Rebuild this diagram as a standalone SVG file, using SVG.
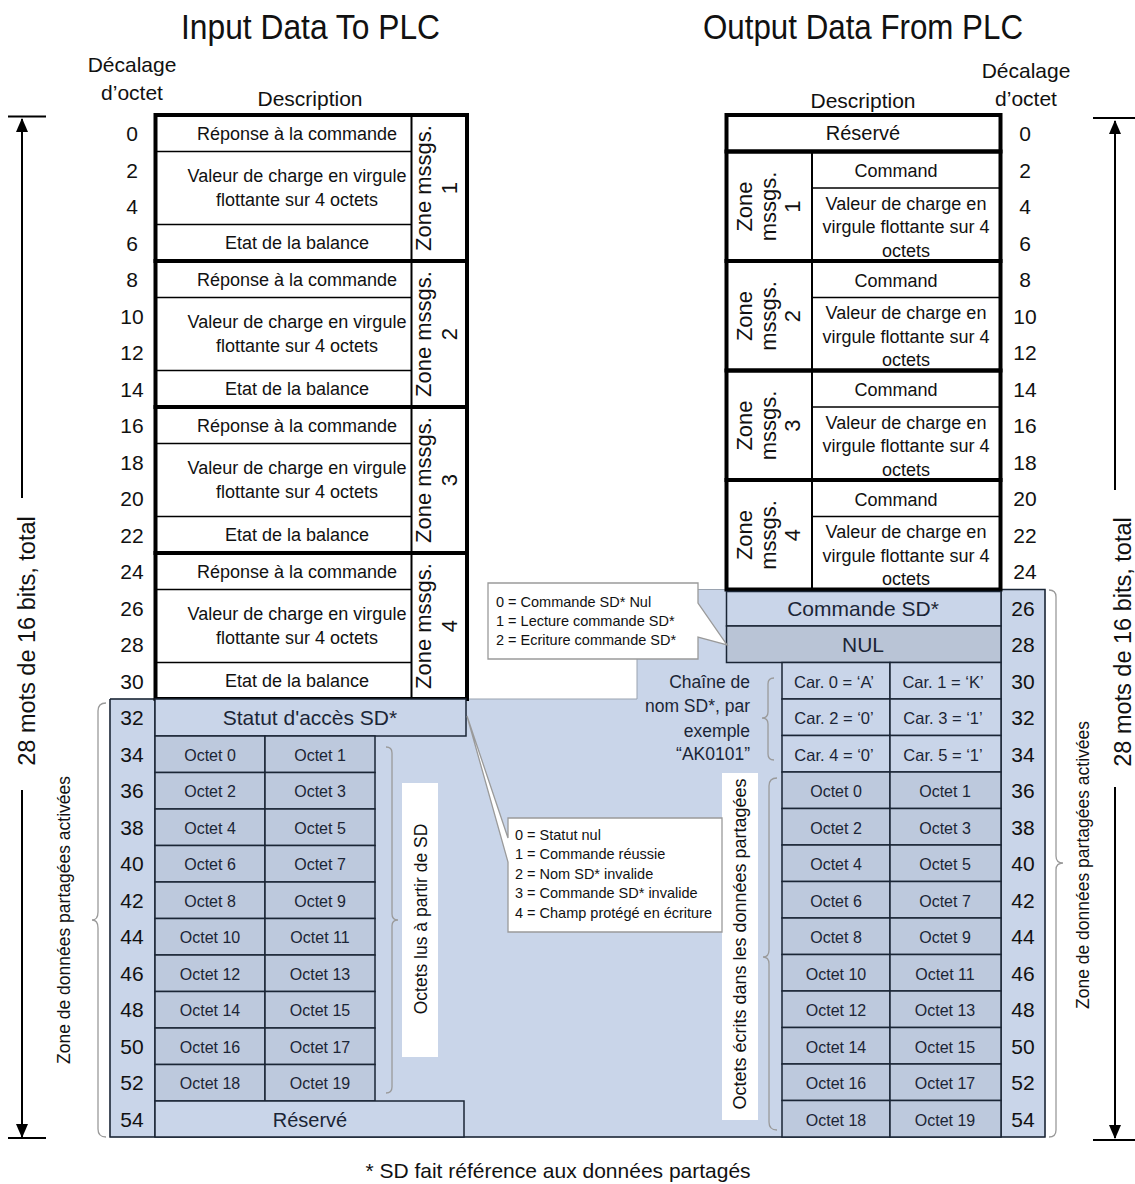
<svg xmlns="http://www.w3.org/2000/svg" width="1135" height="1184" viewBox="0 0 1135 1184">
<style>
text{font-family:"Liberation Sans",Arial,sans-serif;fill:#111}
.title{font-size:35px;text-anchor:middle}
.hdr{font-size:21px;text-anchor:middle}
.num{font-size:21px;text-anchor:middle}
.c18{font-size:18px;text-anchor:middle}
.zl{font-size:22px;text-anchor:middle}
.big{font-size:21px;text-anchor:middle;fill:#1b2536}
.res{font-size:20px;text-anchor:middle;fill:#1b2536}
.oct{font-size:16px;text-anchor:middle;fill:#1b2536}
.car{font-size:16.5px;text-anchor:middle;fill:#1b2536}
.co{font-size:14.5px}
.ch{font-size:17.5px;text-anchor:end;fill:#1b2536}
.vt{font-size:17.5px;text-anchor:middle}
.mots{font-size:23.5px;text-anchor:middle}
.thick{fill:none;stroke:#000;stroke-width:4}
.thin{stroke:#000;stroke-width:1.5;fill:none}
.mid{stroke:#000;stroke-width:2;fill:none}
.lc{fill:#c9d5e9;stroke:#1a2535;stroke-width:1.5}
.dc{fill:#bdc9dd;stroke:#1a2535;stroke-width:1.5}
.nul{fill:#b9c4d6;stroke:#1a2535;stroke-width:1.5}
.edge{stroke:#1a2535;stroke-width:1.5;fill:none}
.brace{fill:none;stroke:#9a9a9a;stroke-width:1.3}
.callout{fill:#fff;stroke:#9a9a9a;stroke-width:1.3}
.ax{stroke:#000;stroke-width:2;fill:none}
</style>
<defs>
<marker id="ah" markerUnits="userSpaceOnUse" markerWidth="14" markerHeight="14" refX="13" refY="6" orient="auto">
<path d="M0,0 L14,6 L0,12 Z" fill="#000"/>
</marker>
</defs>
<rect x="0" y="0" width="1135" height="1184" fill="#fff"/>

<!-- titles and headers -->
<g id="titles">
<text class="title" x="310.5" y="39" textLength="259" lengthAdjust="spacingAndGlyphs">Input Data To PLC</text>
<text class="title" x="863" y="39" textLength="320" lengthAdjust="spacingAndGlyphs">Output Data From PLC</text>
<text class="hdr" x="132" y="72">Décalage</text>
<text class="hdr" x="132" y="100">d’octet</text>
<text class="hdr" x="310" y="106">Description</text>
<text class="hdr" x="1026" y="78">Décalage</text>
<text class="hdr" x="1026" y="106">d’octet</text>
<text class="hdr" x="863" y="108">Description</text>
</g>

<!-- shared data blue region -->
<g id="shared-area">
<path d="M110 699 H637 V589.5 H1045 V1137 H110 Z" fill="#c9d5e9" stroke="#9aa3b0" stroke-width="1"/>
<path class="edge" d="M110 699 V1137 H1045 V589.5 H1001"/>
<line class="edge" x1="110" y1="699" x2="155" y2="699"/>
<line class="edge" x1="155" y1="699" x2="155" y2="1137"/>
<line class="edge" x1="1001" y1="589.5" x2="1001" y2="1137"/>
</g>

<!-- left input table -->
<g id="input-zone1">
<line class="thin" x1="155.5" y1="151.5" x2="411.5" y2="151.5"/>
<line class="thin" x1="155.5" y1="224.5" x2="411.5" y2="224.5"/>
<line class="mid" x1="411.5" y1="115" x2="411.5" y2="261"/>
<rect class="thick" x="155.5" y="115" width="311.5" height="146"/>
<text class="c18" x="297" y="140">Réponse à la commande</text>
<text class="c18" x="297" y="182">Valeur de charge en virgule</text>
<text class="c18" x="297" y="206">flottante sur 4 octets</text>
<text class="c18" x="297" y="249">Etat de la balance</text>
<g transform="translate(438,188) rotate(-90)"><text class="zl" x="0" y="-7">Zone mssgs.</text><text class="zl" x="0" y="19">1</text></g>
</g>
<g id="input-zone2">
<line class="thin" x1="155.5" y1="297.5" x2="411.5" y2="297.5"/>
<line class="thin" x1="155.5" y1="370.5" x2="411.5" y2="370.5"/>
<line class="mid" x1="411.5" y1="261" x2="411.5" y2="407"/>
<rect class="thick" x="155.5" y="261" width="311.5" height="146"/>
<text class="c18" x="297" y="286">Réponse à la commande</text>
<text class="c18" x="297" y="328">Valeur de charge en virgule</text>
<text class="c18" x="297" y="352">flottante sur 4 octets</text>
<text class="c18" x="297" y="395">Etat de la balance</text>
<g transform="translate(438,334) rotate(-90)"><text class="zl" x="0" y="-7">Zone mssgs.</text><text class="zl" x="0" y="19">2</text></g>
</g>
<g id="input-zone3">
<line class="thin" x1="155.5" y1="443.5" x2="411.5" y2="443.5"/>
<line class="thin" x1="155.5" y1="516.5" x2="411.5" y2="516.5"/>
<line class="mid" x1="411.5" y1="407" x2="411.5" y2="553"/>
<rect class="thick" x="155.5" y="407" width="311.5" height="146"/>
<text class="c18" x="297" y="432">Réponse à la commande</text>
<text class="c18" x="297" y="474">Valeur de charge en virgule</text>
<text class="c18" x="297" y="498">flottante sur 4 octets</text>
<text class="c18" x="297" y="541">Etat de la balance</text>
<g transform="translate(438,480) rotate(-90)"><text class="zl" x="0" y="-7">Zone mssgs.</text><text class="zl" x="0" y="19">3</text></g>
</g>
<g id="input-zone4">
<line class="thin" x1="155.5" y1="589.5" x2="411.5" y2="589.5"/>
<line class="thin" x1="155.5" y1="662.5" x2="411.5" y2="662.5"/>
<line class="mid" x1="411.5" y1="553" x2="411.5" y2="699"/>
<rect class="thick" x="155.5" y="553" width="311.5" height="146"/>
<text class="c18" x="297" y="578">Réponse à la commande</text>
<text class="c18" x="297" y="620">Valeur de charge en virgule</text>
<text class="c18" x="297" y="644">flottante sur 4 octets</text>
<text class="c18" x="297" y="687">Etat de la balance</text>
<g transform="translate(438,626) rotate(-90)"><text class="zl" x="0" y="-7">Zone mssgs.</text><text class="zl" x="0" y="19">4</text></g>
</g>

<g id="input-statut">
<rect class="lc" x="155" y="699" width="311" height="37"/>
<text class="big" x="310" y="725">Statut d'accès SD*</text>
</g>
<g id="input-octets">
<rect class="dc" x="155" y="736" width="110" height="36.5"/><rect class="dc" x="265" y="736" width="110" height="36.5"/>
<rect class="dc" x="155" y="772.5" width="110" height="36.5"/><rect class="dc" x="265" y="772.5" width="110" height="36.5"/>
<rect class="dc" x="155" y="809" width="110" height="36.5"/><rect class="dc" x="265" y="809" width="110" height="36.5"/>
<rect class="dc" x="155" y="845.5" width="110" height="36.5"/><rect class="dc" x="265" y="845.5" width="110" height="36.5"/>
<rect class="dc" x="155" y="882" width="110" height="36.5"/><rect class="dc" x="265" y="882" width="110" height="36.5"/>
<rect class="dc" x="155" y="918.5" width="110" height="36.5"/><rect class="dc" x="265" y="918.5" width="110" height="36.5"/>
<rect class="dc" x="155" y="955" width="110" height="36.5"/><rect class="dc" x="265" y="955" width="110" height="36.5"/>
<rect class="dc" x="155" y="991.5" width="110" height="36.5"/><rect class="dc" x="265" y="991.5" width="110" height="36.5"/>
<rect class="dc" x="155" y="1028" width="110" height="36.5"/><rect class="dc" x="265" y="1028" width="110" height="36.5"/>
<rect class="dc" x="155" y="1064.5" width="110" height="36.5"/><rect class="dc" x="265" y="1064.5" width="110" height="36.5"/>
<text class="oct" x="210" y="761">Octet 0</text><text class="oct" x="320" y="761">Octet 1</text>
<text class="oct" x="210" y="797">Octet 2</text><text class="oct" x="320" y="797">Octet 3</text>
<text class="oct" x="210" y="834">Octet 4</text><text class="oct" x="320" y="834">Octet 5</text>
<text class="oct" x="210" y="870">Octet 6</text><text class="oct" x="320" y="870">Octet 7</text>
<text class="oct" x="210" y="907">Octet 8</text><text class="oct" x="320" y="907">Octet 9</text>
<text class="oct" x="210" y="943">Octet 10</text><text class="oct" x="320" y="943">Octet 11</text>
<text class="oct" x="210" y="980">Octet 12</text><text class="oct" x="320" y="980">Octet 13</text>
<text class="oct" x="210" y="1016">Octet 14</text><text class="oct" x="320" y="1016">Octet 15</text>
<text class="oct" x="210" y="1053">Octet 16</text><text class="oct" x="320" y="1053">Octet 17</text>
<text class="oct" x="210" y="1089">Octet 18</text><text class="oct" x="320" y="1089">Octet 19</text>
</g>
<g id="input-reserve">
<rect class="lc" x="155" y="1101" width="309" height="36"/>
<text class="res" x="310" y="1127">Réservé</text>
</g>
<g id="input-read-label">
<rect x="402" y="783" width="36" height="274" fill="#fff"/>
<text class="vt" transform="translate(427,919) rotate(-90)">Octets lus à partir de SD</text>
</g>

<!-- right output table -->
<g id="output-reserve">
<rect class="thick" x="726.5" y="115" width="274" height="36.5"/>
<text class="res" x="863" y="140" style="fill:#111">Réservé</text>
</g>
<g id="output-zone1">
<line class="thin" x1="812" y1="188" x2="1000.5" y2="188"/>
<line class="mid" x1="812" y1="151.5" x2="812" y2="261"/>
<rect class="thick" x="726.5" y="151.5" width="274" height="109.5"/>
<text class="c18" x="896" y="177">Command</text>
<text class="c18" x="906" y="209.5">Valeur de charge en</text>
<text class="c18" x="906" y="233">virgule flottante sur 4</text>
<text class="c18" x="906" y="256.5">octets</text>
<g transform="translate(769,206.5) rotate(-90)"><text class="zl" y="-17">Zone</text><text class="zl" y="7">mssgs.</text><text class="zl" y="31">1</text></g>
</g>
<g id="output-zone2">
<line class="thin" x1="812" y1="297.5" x2="1000.5" y2="297.5"/>
<line class="mid" x1="812" y1="261" x2="812" y2="370.5"/>
<rect class="thick" x="726.5" y="261" width="274" height="109.5"/>
<text class="c18" x="896" y="286.5">Command</text>
<text class="c18" x="906" y="319">Valeur de charge en</text>
<text class="c18" x="906" y="342.5">virgule flottante sur 4</text>
<text class="c18" x="906" y="366">octets</text>
<g transform="translate(769,316) rotate(-90)"><text class="zl" y="-17">Zone</text><text class="zl" y="7">mssgs.</text><text class="zl" y="31">2</text></g>
</g>
<g id="output-zone3">
<line class="thin" x1="812" y1="407" x2="1000.5" y2="407"/>
<line class="mid" x1="812" y1="370.5" x2="812" y2="480"/>
<rect class="thick" x="726.5" y="370.5" width="274" height="109.5"/>
<text class="c18" x="896" y="396">Command</text>
<text class="c18" x="906" y="428.5">Valeur de charge en</text>
<text class="c18" x="906" y="452">virgule flottante sur 4</text>
<text class="c18" x="906" y="475.5">octets</text>
<g transform="translate(769,425.5) rotate(-90)"><text class="zl" y="-17">Zone</text><text class="zl" y="7">mssgs.</text><text class="zl" y="31">3</text></g>
</g>
<g id="output-zone4">
<line class="thin" x1="812" y1="516.5" x2="1000.5" y2="516.5"/>
<line class="mid" x1="812" y1="480" x2="812" y2="589.5"/>
<rect class="thick" x="726.5" y="480" width="274" height="109.5"/>
<text class="c18" x="896" y="505.5">Command</text>
<text class="c18" x="906" y="538">Valeur de charge en</text>
<text class="c18" x="906" y="561.5">virgule flottante sur 4</text>
<text class="c18" x="906" y="585">octets</text>
<g transform="translate(769,535) rotate(-90)"><text class="zl" y="-17">Zone</text><text class="zl" y="7">mssgs.</text><text class="zl" y="31">4</text></g>
</g>
<g id="output-command-sd">
<rect class="lc" x="726.5" y="591.5" width="274.5" height="34.5"/>
<text class="big" x="863" y="616">Commande SD*</text>
</g>
<g id="output-nul">
<rect class="nul" x="726.5" y="626" width="274.5" height="36.5"/>
<text class="big" x="863" y="652">NUL</text>
</g>
<g id="output-name">
<rect class="lc" x="782" y="662.5" width="108" height="36.5"/><rect class="lc" x="890" y="662.5" width="111" height="36.5"/>
<rect class="lc" x="782" y="699" width="108" height="36.5"/><rect class="lc" x="890" y="699" width="111" height="36.5"/>
<rect class="lc" x="782" y="735.5" width="108" height="36.5"/><rect class="lc" x="890" y="735.5" width="111" height="36.5"/>
<text class="car" x="834" y="688">Car. 0 = ‘A’</text><text class="car" x="943" y="688">Car. 1 = ‘K’</text>
<text class="car" x="834" y="724">Car. 2 = ‘0’</text><text class="car" x="943" y="724">Car. 3 = ‘1’</text>
<text class="car" x="834" y="761">Car. 4 = ‘0’</text><text class="car" x="943" y="761">Car. 5 = ‘1’</text>
<text class="ch" x="750" y="688">Chaîne de</text>
<text class="ch" x="750" y="712">nom SD*, par</text>
<text class="ch" x="750" y="737">exemple</text>
<text class="ch" x="750" y="760">“AK0101”</text>
</g>
<g id="output-octets">
<rect class="dc" x="782" y="772" width="108" height="36.5"/><rect class="dc" x="890" y="772" width="111" height="36.5"/>
<rect class="dc" x="782" y="808.5" width="108" height="36.5"/><rect class="dc" x="890" y="808.5" width="111" height="36.5"/>
<rect class="dc" x="782" y="845" width="108" height="36.5"/><rect class="dc" x="890" y="845" width="111" height="36.5"/>
<rect class="dc" x="782" y="881.5" width="108" height="36.5"/><rect class="dc" x="890" y="881.5" width="111" height="36.5"/>
<rect class="dc" x="782" y="918" width="108" height="36.5"/><rect class="dc" x="890" y="918" width="111" height="36.5"/>
<rect class="dc" x="782" y="954.5" width="108" height="36.5"/><rect class="dc" x="890" y="954.5" width="111" height="36.5"/>
<rect class="dc" x="782" y="991" width="108" height="36.5"/><rect class="dc" x="890" y="991" width="111" height="36.5"/>
<rect class="dc" x="782" y="1027.5" width="108" height="36.5"/><rect class="dc" x="890" y="1027.5" width="111" height="36.5"/>
<rect class="dc" x="782" y="1064" width="108" height="36.5"/><rect class="dc" x="890" y="1064" width="111" height="36.5"/>
<rect class="dc" x="782" y="1100.5" width="108" height="36.5"/><rect class="dc" x="890" y="1100.5" width="111" height="36.5"/>
<text class="oct" x="836" y="797">Octet 0</text><text class="oct" x="945" y="797">Octet 1</text>
<text class="oct" x="836" y="834">Octet 2</text><text class="oct" x="945" y="834">Octet 3</text>
<text class="oct" x="836" y="870">Octet 4</text><text class="oct" x="945" y="870">Octet 5</text>
<text class="oct" x="836" y="907">Octet 6</text><text class="oct" x="945" y="907">Octet 7</text>
<text class="oct" x="836" y="943">Octet 8</text><text class="oct" x="945" y="943">Octet 9</text>
<text class="oct" x="836" y="980">Octet 10</text><text class="oct" x="945" y="980">Octet 11</text>
<text class="oct" x="836" y="1016">Octet 12</text><text class="oct" x="945" y="1016">Octet 13</text>
<text class="oct" x="836" y="1053">Octet 14</text><text class="oct" x="945" y="1053">Octet 15</text>
<text class="oct" x="836" y="1089">Octet 16</text><text class="oct" x="945" y="1089">Octet 17</text>
<text class="oct" x="836" y="1126">Octet 18</text><text class="oct" x="945" y="1126">Octet 19</text>
</g>
<g id="output-write-label">
<rect x="722" y="773" width="36" height="347" fill="#fff"/>
<text class="vt" style="font-size:18px" transform="translate(746,944) rotate(-90)">Octets écrits dans les données partagées</text>
</g>

<!-- offsets -->
<g id="offsets-left">
<text class="num" x="132" y="141">0</text><text class="num" x="132" y="178">2</text><text class="num" x="132" y="214">4</text><text class="num" x="132" y="251">6</text>
<text class="num" x="132" y="287">8</text><text class="num" x="132" y="324">10</text><text class="num" x="132" y="360">12</text><text class="num" x="132" y="397">14</text>
<text class="num" x="132" y="433">16</text><text class="num" x="132" y="470">18</text><text class="num" x="132" y="506">20</text><text class="num" x="132" y="543">22</text>
<text class="num" x="132" y="579">24</text><text class="num" x="132" y="616">26</text><text class="num" x="132" y="652">28</text><text class="num" x="132" y="689">30</text>
<g style="fill:#1b2536">
<text class="num" x="132" y="725">32</text><text class="num" x="132" y="762">34</text><text class="num" x="132" y="798">36</text><text class="num" x="132" y="835">38</text>
<text class="num" x="132" y="871">40</text><text class="num" x="132" y="908">42</text><text class="num" x="132" y="944">44</text><text class="num" x="132" y="981">46</text>
<text class="num" x="132" y="1017">48</text><text class="num" x="132" y="1054">50</text><text class="num" x="132" y="1090">52</text><text class="num" x="132" y="1127">54</text>
</g>
</g>
<g id="offsets-right">
<text class="num" x="1025" y="141">0</text><text class="num" x="1025" y="178">2</text><text class="num" x="1025" y="214">4</text><text class="num" x="1025" y="251">6</text>
<text class="num" x="1025" y="287">8</text><text class="num" x="1025" y="324">10</text><text class="num" x="1025" y="360">12</text><text class="num" x="1025" y="397">14</text>
<text class="num" x="1025" y="433">16</text><text class="num" x="1025" y="470">18</text><text class="num" x="1025" y="506">20</text><text class="num" x="1025" y="543">22</text>
<text class="num" x="1025" y="579">24</text>
<text class="num" x="1023" y="616">26</text><text class="num" x="1023" y="652">28</text><text class="num" x="1023" y="689">30</text>
<text class="num" x="1023" y="725">32</text><text class="num" x="1023" y="762">34</text><text class="num" x="1023" y="798">36</text><text class="num" x="1023" y="835">38</text>
<text class="num" x="1023" y="871">40</text><text class="num" x="1023" y="908">42</text><text class="num" x="1023" y="944">44</text><text class="num" x="1023" y="981">46</text>
<text class="num" x="1023" y="1017">48</text><text class="num" x="1023" y="1054">50</text><text class="num" x="1023" y="1090">52</text><text class="num" x="1023" y="1127">54</text>
</g>

<!-- braces and side labels -->
<g id="braces">
<path class="brace" d="M106 703 Q98 703 98 711 V912 Q98 920 92 920 Q98 920 98 928 V1129 Q98 1137 106 1137"/>
<path class="brace" d="M386 747 Q392 747 392 753 V914 Q392 920 398 920 Q392 920 392 926 V1087 Q392 1093 386 1093"/>
<path class="brace" d="M774 678 Q768 678 768 684 V712 Q768 718 762 718 Q768 718 768 724 V754 Q768 760 774 760"/>
<path class="brace" d="M777 778 Q769 778 769 786 V950 Q769 957 763 957 Q769 957 769 964 V1122 Q769 1130 777 1130"/>
<path class="brace" d="M1049 590 Q1056 590 1056 597 V856 Q1056 863 1063 863 Q1056 863 1056 870 V1130 Q1056 1137 1049 1137"/>
</g>
<g id="zone-labels">
<text class="vt" transform="translate(70,920) rotate(-90)">Zone de données partagées activées</text>
<text class="vt" transform="translate(1089,865) rotate(-90)">Zone de données partagées activées</text>
</g>

<!-- total size arrows -->
<g id="connectors">
<line class="ax" x1="8" y1="116.5" x2="46" y2="116.5"/>
<line class="ax" x1="22" y1="498" x2="22" y2="119" marker-end="url(#ah)"/>
<line class="ax" x1="22" y1="790" x2="22" y2="1137" marker-end="url(#ah)"/>
<line class="ax" x1="8" y1="1138" x2="46" y2="1138"/>
<line class="ax" x1="1093" y1="118" x2="1135" y2="118"/>
<line class="ax" x1="1115" y1="490" x2="1115" y2="121" marker-end="url(#ah)"/>
<line class="ax" x1="1115" y1="787" x2="1115" y2="1138" marker-end="url(#ah)"/>
<line class="ax" x1="1093" y1="1140" x2="1135" y2="1140"/>
</g>
<g id="total-labels">
<text class="mots" transform="translate(35,641) rotate(-90)">28 mots de 16 bits, total</text>
<text class="mots" transform="translate(1131,642) rotate(-90)">28 mots de 16 bits, total</text>
</g>

<!-- callouts -->
<g id="callout-command">
<path class="callout" d="M488 583 H698 V603 L727 645 L698 637 V659 H488 Z"/>
<text class="co" x="496" y="607">0 = Commande SD* Nul</text>
<text class="co" x="496" y="626">1 = Lecture commande  SD*</text>
<text class="co" x="496" y="645">2 = Ecriture commande SD*</text>
</g>
<g id="callout-status">
<path class="callout" d="M508 818 H722 V932 H508 V862 L467 716 L508 838 Z"/>
<text class="co" x="515" y="839.5">0 = Statut nul</text>
<text class="co" x="515" y="859">1 = Commande réussie</text>
<text class="co" x="515" y="878.5">2 = Nom SD* invalide</text>
<text class="co" x="515" y="898">3 = Commande SD* invalide</text>
<text class="co" x="515" y="917.5">4 = Champ protégé en écriture</text>
</g>

<g id="footer">
<text x="558" y="1178" style="font-size:21px;text-anchor:middle">* SD fait référence aux données partagés</text>
</g>
</svg>
